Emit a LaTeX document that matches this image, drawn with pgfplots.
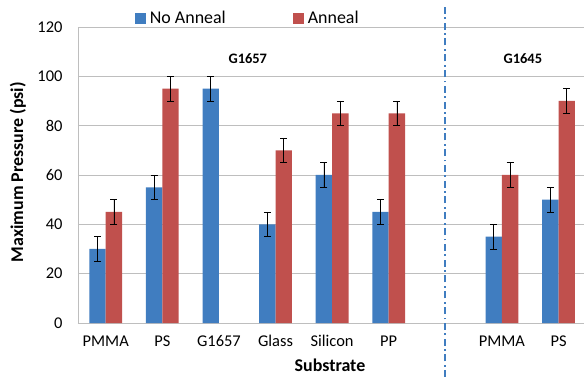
\documentclass[border=0pt]{standalone}
\usepackage{pgfplots}
\pgfplotsset{compat=1.18}
\usepackage{fontspec}
\setmainfont{Carlito}
\definecolor{barblue}{RGB}{64,125,192}
\definecolor{barred}{RGB}{192,80,77}
\definecolor{gridgray}{RGB}{190,190,190}
\begin{document}
\begin{tikzpicture}
\begin{axis}[
  scale only axis,
  width=506bp, height=296bp,
  xmin=-0.49, xmax=8.45,
  ymin=0, ymax=120,
  ytick={0,20,...,120},
  xtick={0,1,2,3,4,5,7,8},
  xticklabels={PMMA,PS,G1657,Glass,Silicon,PP,PMMA,PS},
  ybar=0pt, bar width=0.29,
  axis x line=bottom, axis y line=left,
  x axis line style={-, draw=gridgray, line width=0.8bp},
  y axis line style={-, draw=gridgray, line width=0.8bp},
  major tick length=0pt,
  ymajorgrids, grid style={gridgray, line width=0.8bp},
  tick label style={font=\fontsize{16.5}{18}\selectfont},
  /pgf/number format/assume math mode=true,
  yticklabel style={xshift=-12bp},
  xticklabel style={yshift=-9bp},
  xlabel={\textbf{Substrate}},
  ylabel={\textbf{Maximum Pressure (psi)}},
  label style={font=\fontsize{18}{20}\selectfont},
  xlabel style={at={(axis description cs:0.498,-0.143)}, anchor=center},
  ylabel style={at={(axis description cs:-0.119,0.51)}, anchor=center},
  legend style={at={(axis description cs:0.113,1.03)}, anchor=west,
    draw=none, fill=none, font=\fontsize{18}{20}\selectfont,
    legend columns=2, /tikz/every even column/.append style={column sep=64bp},
    inner sep=0pt, nodes={inner xsep=3.5bp}},
  legend image code/.code={\fill[#1] (0bp,-5.5bp) rectangle (11bp,5.5bp);},
  error bars/error bar style={black, line width=0.6bp},
  error bars/error mark options={rotate=90, mark size=3.5bp, black, line width=0.6bp},
  clip=false,
]
\addplot[fill=barblue, draw=none, error bars/.cd, y dir=both, y explicit]
  coordinates {(0,30) +- (0,5) (1,55) +- (0,5) (2,95) +- (0,5) (3,40) +- (0,5)
               (4,60) +- (0,5) (5,45) +- (0,5) (7,35) +- (0,5) (8,50) +- (0,5)};
\addplot[fill=barred, draw=none, error bars/.cd, y dir=both, y explicit]
  coordinates {(0,45) +- (0,5) (1,95) +- (0,5) (3,70) +- (0,5)
               (4,85) +- (0,5) (5,85) +- (0,5) (7,60) +- (0,5) (8,90) +- (0,5)};
\legend{No Anneal, Anneal}
\draw[draw=barblue, line width=2bp, dash pattern=on 7bp off 3.5bp on 1.8bp off 3.5bp]
  (axis cs:6,-22) -- (axis cs:6,129);
\node[font=\bfseries\fontsize{14.5}{16}\selectfont] at (axis cs:2.51,107) {G1657};
\node[font=\bfseries\fontsize{14.5}{16}\selectfont] at (axis cs:7.37,107) {G1645};
\coordinate (SW) at (rel axis cs:0,0);
\coordinate (NE) at (rel axis cs:1,1);
\end{axis}
\pgfresetboundingbox
\useasboundingbox ([shift={(-78bp,-54bp)}]SW) rectangle ([shift={(0bp,27bp)}]NE);
\end{tikzpicture}
\end{document}
